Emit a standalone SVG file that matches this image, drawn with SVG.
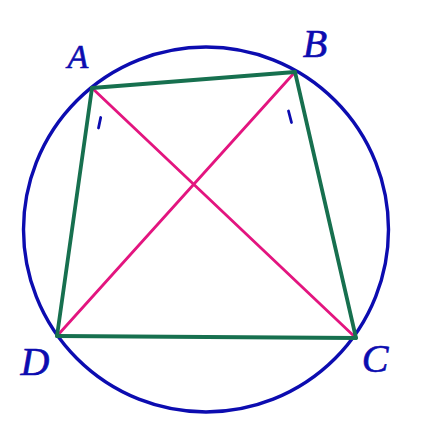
<svg xmlns="http://www.w3.org/2000/svg" width="427" height="437" viewBox="0 0 427 437">
<style>
.circ{fill:none;stroke:#0c0cb0;stroke-width:3.4}
.diag{stroke:#e3157f;stroke-width:2.8;stroke-linecap:round}
.side{stroke:#17704f;stroke-width:3.8;stroke-linecap:round}
.tick{stroke:#0c0cb0;stroke-width:2.8;stroke-linecap:round}
.lbl{font-family:"Liberation Serif","DejaVu Serif",serif;font-style:italic;fill:#0c0cb0;text-anchor:middle;stroke:#0c0cb0;stroke-width:0.6}
</style>
<rect width="427" height="437" fill="#ffffff"/>
<g id="circle"><circle class="circ" cx="206" cy="229.5" r="182.5"/></g>
<g id="connectors">
<line class="diag" x1="92" y1="88" x2="356" y2="338"/>
<line class="diag" x1="295" y1="72" x2="57" y2="336"/>
<line class="side" x1="92" y1="88" x2="295" y2="72"/>
<line class="side" x1="295" y1="72" x2="356" y2="338"/>
<line class="side" x1="356" y1="338" x2="57" y2="336"/>
<line class="side" x1="57" y1="336" x2="92" y2="88"/>
<line class="tick" x1="100.7" y1="117.5" x2="98.5" y2="128"/>
<line class="tick" x1="288.5" y1="111" x2="291.5" y2="122.5"/>
</g>
<g id="A"><text class="lbl" x="78" y="68" font-size="34">A</text></g>
<g id="B"><text class="lbl" x="315" y="57" font-size="40">B</text></g>
<g id="C"><text class="lbl" x="375" y="372" font-size="40">C</text></g>
<g id="D"><text class="lbl" x="35" y="375" font-size="40">D</text></g>
</svg>
